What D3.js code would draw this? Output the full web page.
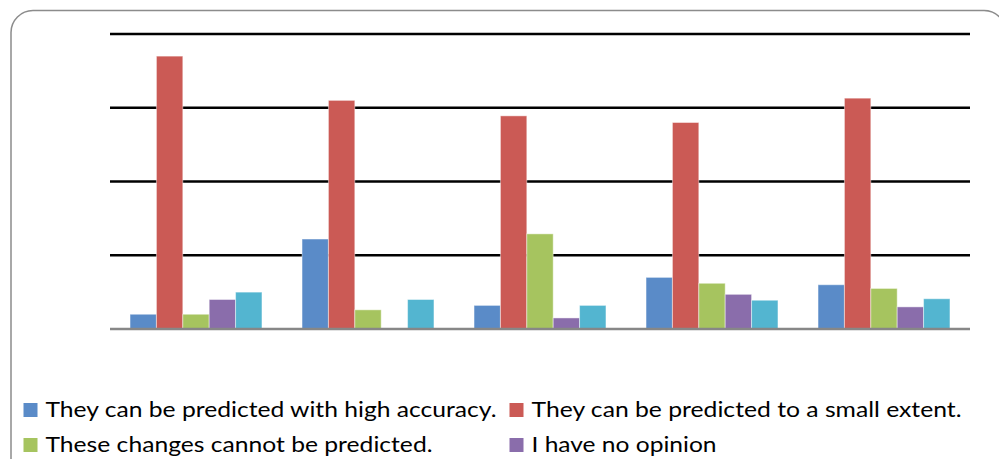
<!DOCTYPE html>
<html>
<head>
<meta charset="utf-8">
<script src="https://cdn.jsdelivr.net/npm/d3@7"></script>
<style>
  html, body { margin: 0; padding: 0; background: #ffffff; }
  svg { display: block; }
</style>
</head>
<body>
<script>
// Five answer groups, five response options per group
const categories = ["Q1", "Q2", "Q3", "Q4", "Q5"];
const legendNames = [
  "They can be predicted with high accuracy.",
  "They can be predicted to a small extent.",
  "These changes cannot be predicted.",
  "I have no opinion"
];
const highAccuracy   = [2.0, 12.2, 3.2, 7.0, 6.0];
const smallExtent    = [37.0, 31.0, 28.9, 28.0, 31.3];
const cannotPredict  = [2.0, 2.6, 12.9, 6.2, 5.5];
const noOpinion      = [4.0, 0.0, 1.5, 4.7, 3.0];
const fifthAnswer    = [5.0, 4.0, 3.2, 3.9, 4.1];
const gridTicks = [10, 20, 30, 40];

const seriesValues = [highAccuracy, smallExtent, cannotPredict, noOpinion, fifthAnswer];
const colors = ["#5a8bc8", "#cb5a55", "#a6c45f", "#8a6dab", "#53b5d0"];

const W = 999, H = 459;
const svg = d3.select("body").append("svg").attr("width", W).attr("height", H);

svg.append("rect").attr("width", W).attr("height", H).attr("fill", "#fff");

// Chart frame
svg.append("rect")
  .attr("x", 11).attr("y", 10.5)
  .attr("width", 995).attr("height", 470)
  .attr("rx", 22).attr("ry", 22)
  .attr("fill", "none")
  .attr("stroke", "#8c8c8c").attr("stroke-width", 1.5);

const plot = { left: 110, right: 970, top: 34, bottom: 329 };

const x0 = d3.scaleBand().domain(categories).range([plot.left, plot.right]).paddingInner(0.233).paddingOuter(0.1165);
const x1 = d3.scaleBand().domain(d3.range(seriesValues.length)).range([0, x0.bandwidth()]);
const y = d3.scaleLinear().domain([0, 40]).range([plot.bottom, plot.top]);

// Horizontal gridlines
svg.append("g").selectAll("line").data(gridTicks).join("line")
  .attr("x1", plot.left).attr("x2", plot.right)
  .attr("y1", d => y(d)).attr("y2", d => y(d))
  .attr("stroke", "#000").attr("stroke-width", 2.6);

// Bars
const groups = svg.append("g").selectAll("g").data(categories).join("g")
  .attr("transform", c => `translate(${x0(c)},0)`);

groups.selectAll("rect")
  .data((c, ci) => seriesValues.map((vals, si) => ({ si, v: vals[ci] })))
  .join("rect")
  .filter(d => d.v > 0)
  .attr("x", d => x1(d.si))
  .attr("y", d => y(d.v))
  .attr("width", x1.bandwidth())
  .attr("height", d => y(0) - y(d.v))
  .attr("fill", d => colors[d.si])
  .attr("stroke", "#ffffff").attr("stroke-opacity", 0.45).attr("stroke-width", 1);

// Category axis line
svg.append("line")
  .attr("x1", plot.left).attr("x2", plot.right)
  .attr("y1", y(0)).attr("y2", y(0))
  .attr("stroke", "#878787").attr("stroke-width", 2.6);

// Legend, two columns
const legendCols = [23.5, 509.5];
const legendRows = [403, 438];
const legendWidths = [451, 430, 387, 185];
const legend = svg.append("g").selectAll("g").data(legendNames).join("g")
  .attr("transform", (d, i) => `translate(${legendCols[i % 2]},${legendRows[Math.floor(i / 2)]})`);
legend.append("rect")
  .attr("width", 14).attr("height", 14)
  .attr("fill", (d, i) => colors[i]);
legend.append("text")
  .attr("x", 22).attr("y", 13.5)
  .attr("font-family", "Lato, 'Open Sans', sans-serif")
  .attr("font-size", 22)
  .attr("fill", "#000")
  .attr("textLength", (d, i) => legendWidths[i])
  .attr("lengthAdjust", "spacingAndGlyphs")
  .text(d => d);
</script>
</body>
</html>
